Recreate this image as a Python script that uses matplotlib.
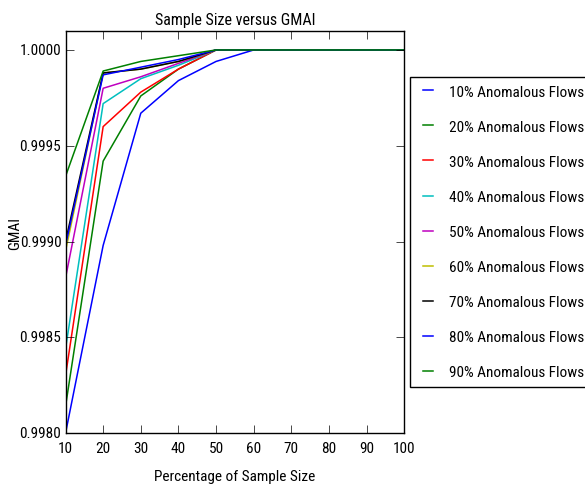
import matplotlib
matplotlib.use("Agg")
import matplotlib.pyplot as plt

plt.style.use('classic')
plt.rcParams['font.family'] = ['Roboto Condensed', 'DejaVu Sans']

# Data
sample_pct = [10, 20, 30, 40, 50, 60, 70, 80, 90, 100]
labels = ["10% Anomalous Flows", "20% Anomalous Flows", "30% Anomalous Flows",
          "40% Anomalous Flows", "50% Anomalous Flows", "60% Anomalous Flows",
          "70% Anomalous Flows", "80% Anomalous Flows", "90% Anomalous Flows"]
colors = ['b', 'g', 'r', 'c', 'm', 'y', 'k', 'b', 'g']

gmai_10 = [0.99800, 0.99898, 0.99967, 0.99984, 0.99994, 1.0, 1.0, 1.0, 1.0, 1.0]
gmai_20 = [0.99814, 0.99942, 0.99976, 0.99990, 1.0, 1.0, 1.0, 1.0, 1.0, 1.0]
gmai_30 = [0.99830, 0.99960, 0.99978, 0.99990, 1.0, 1.0, 1.0, 1.0, 1.0, 1.0]
gmai_40 = [0.99844, 0.99972, 0.99985, 0.99992, 1.0, 1.0, 1.0, 1.0, 1.0, 1.0]
gmai_50 = [0.99881, 0.99980, 0.99986, 0.99993, 1.0, 1.0, 1.0, 1.0, 1.0, 1.0]
gmai_60 = [0.99895, 0.99988, 0.99990, 0.99994, 1.0, 1.0, 1.0, 1.0, 1.0, 1.0]
gmai_70 = [0.99900, 0.99988, 0.99990, 0.99994, 1.0, 1.0, 1.0, 1.0, 1.0, 1.0]
gmai_80 = [0.99898, 0.99987, 0.99991, 0.99995, 1.0, 1.0, 1.0, 1.0, 1.0, 1.0]
gmai_90 = [0.99934, 0.99989, 0.99994, 0.99997, 1.0, 1.0, 1.0, 1.0, 1.0, 1.0]
series = [gmai_10, gmai_20, gmai_30, gmai_40, gmai_50,
          gmai_60, gmai_70, gmai_80, gmai_90]
yticks = [0.998, 0.9985, 0.999, 0.9995, 1.0]
ytick_labels = ["0.9980", "0.9985", "0.9990", "0.9995", "1.0000"]

fig = plt.figure(figsize=(5.85, 4.89), dpi=100, facecolor='white')
ax = fig.add_axes([0.112, 0.112, 0.579, 0.823])

for s, c, lab in zip(series, colors, labels):
    ax.plot(sample_pct, s, c, label=lab, linewidth=1.1)

ax.set_xlim(10, 100)
ax.set_ylim(0.998, 1.0001)
ax.set_yticks(yticks)
ax.set_yticklabels(ytick_labels)
ax.tick_params(labelsize=11, length=5.5)
ax.tick_params(axis='x', pad=5.5)
ax.tick_params(axis='y', pad=3)
ax.set_title("Sample Size versus GMAI", fontsize=11.5)
ax.set_xlabel("Percentage of Sample Size", fontsize=11)
ax.set_ylabel("GMAI", fontsize=11)
ax.xaxis.set_label_coords(0.5, -0.09)
ax.yaxis.set_label_coords(-0.128, 0.5)

ax.legend(loc='center left', bbox_to_anchor=(1.0, 0.5), fontsize=11,
          handlelength=1.3, handletextpad=0.72, labelspacing=1.38,
          borderpad=0.5, borderaxespad=0.4)

fig.savefig("out.png", dpi=100, facecolor='white')
